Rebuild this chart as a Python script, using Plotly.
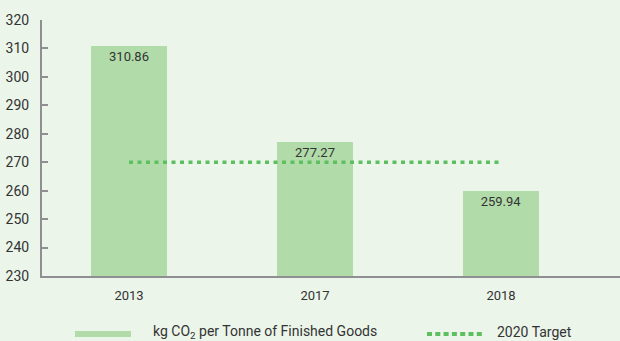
import plotly.graph_objects as go

years = ["2013", "2017", "2018"]
emissions = [310.86, 277.27, 259.94]
target_value = 270
target_years = ["2013", "2017", "2018"]
y_ticks = [230, 240, 250, 260, 270, 280, 290, 300, 310, 320]

xpos = list(range(len(years)))
target_x = [years.index(y) for y in target_years]

BG = "#EBF5EA"
BAR = "#B2DBAA"
DOT = "#5CBF60"
AX = "#8E8E93"
TXT = "#333333"
FONT = "Roboto"
DASH = "4px,4.5px"

L, R, T, B = 42, 0, 20, 65
W, H = 620, 341
pw = W - L - R
ph = H - T - B

def px2x(px):
    return (px - L) / pw

def py2y(py):
    return (H - B - py) / ph

fig = go.Figure()
fig.add_trace(go.Bar(
    x=xpos, y=[v - 230 for v in emissions], base=230,
    width=0.41, marker=dict(color=BAR, line=dict(width=0)),
    text=[f"{v:.2f}" for v in emissions], textposition="inside",
    insidetextanchor="end", textfont=dict(family=FONT, size=13, color=TXT),
    cliponaxis=False, showlegend=False, hoverinfo="skip",
))
fig.add_trace(go.Scatter(
    x=target_x, y=[target_value] * len(target_x), mode="lines",
    line=dict(color=DOT, width=3.5, dash=DASH),
    showlegend=False, hoverinfo="skip",
))

# custom legend
shapes = [
    dict(type="line", xref="paper", yref="paper", x0=px2x(75), x1=px2x(131),
         y0=py2y(334), y1=py2y(334), line=dict(color=BAR, width=6)),
    dict(type="line", xref="paper", yref="paper", x0=px2x(427), x1=px2x(482),
         y0=py2y(334), y1=py2y(334), line=dict(color=DOT, width=4, dash="5px,3.3px")),
]
annotations = [
    dict(xref="paper", yref="paper", x=px2x(151), y=py2y(332), xanchor="left", yanchor="middle",
         text="kg CO<sub>2</sub> per Tonne of Finished Goods", showarrow=False,
         font=dict(family=FONT, size=14, color=TXT)),
    dict(xref="paper", yref="paper", x=px2x(495), y=py2y(332), xanchor="left", yanchor="middle",
         text="2020 Target", showarrow=False, font=dict(family=FONT, size=14, color=TXT)),
]

span = 186.0
x0 = -(129 - L) / span
x1 = x0 + pw / span

fig.update_layout(
    width=W, height=H, margin=dict(l=L, r=R, t=T, b=B),
    paper_bgcolor=BG, plot_bgcolor=BG,
    font=dict(family=FONT, size=13, color=TXT),
    shapes=shapes, annotations=annotations,
    xaxis=dict(range=[x0, x1], tickvals=xpos, ticktext=years, showgrid=False,
               zeroline=False, showline=True, linecolor=AX, linewidth=2,
               ticks="", ticklabelstandoff=6, tickfont=dict(size=13, color=TXT)),
    yaxis=dict(range=[230, 320], tickvals=y_ticks, showgrid=False, zeroline=False,
               showline=True, linecolor=AX, linewidth=2, ticks="inside", ticklen=6,
               tickcolor=AX, tickwidth=2, ticklabelstandoff=8,
               tickfont=dict(size=14, color=TXT)),
    bargap=0,
)

fig.write_html("out.html")
